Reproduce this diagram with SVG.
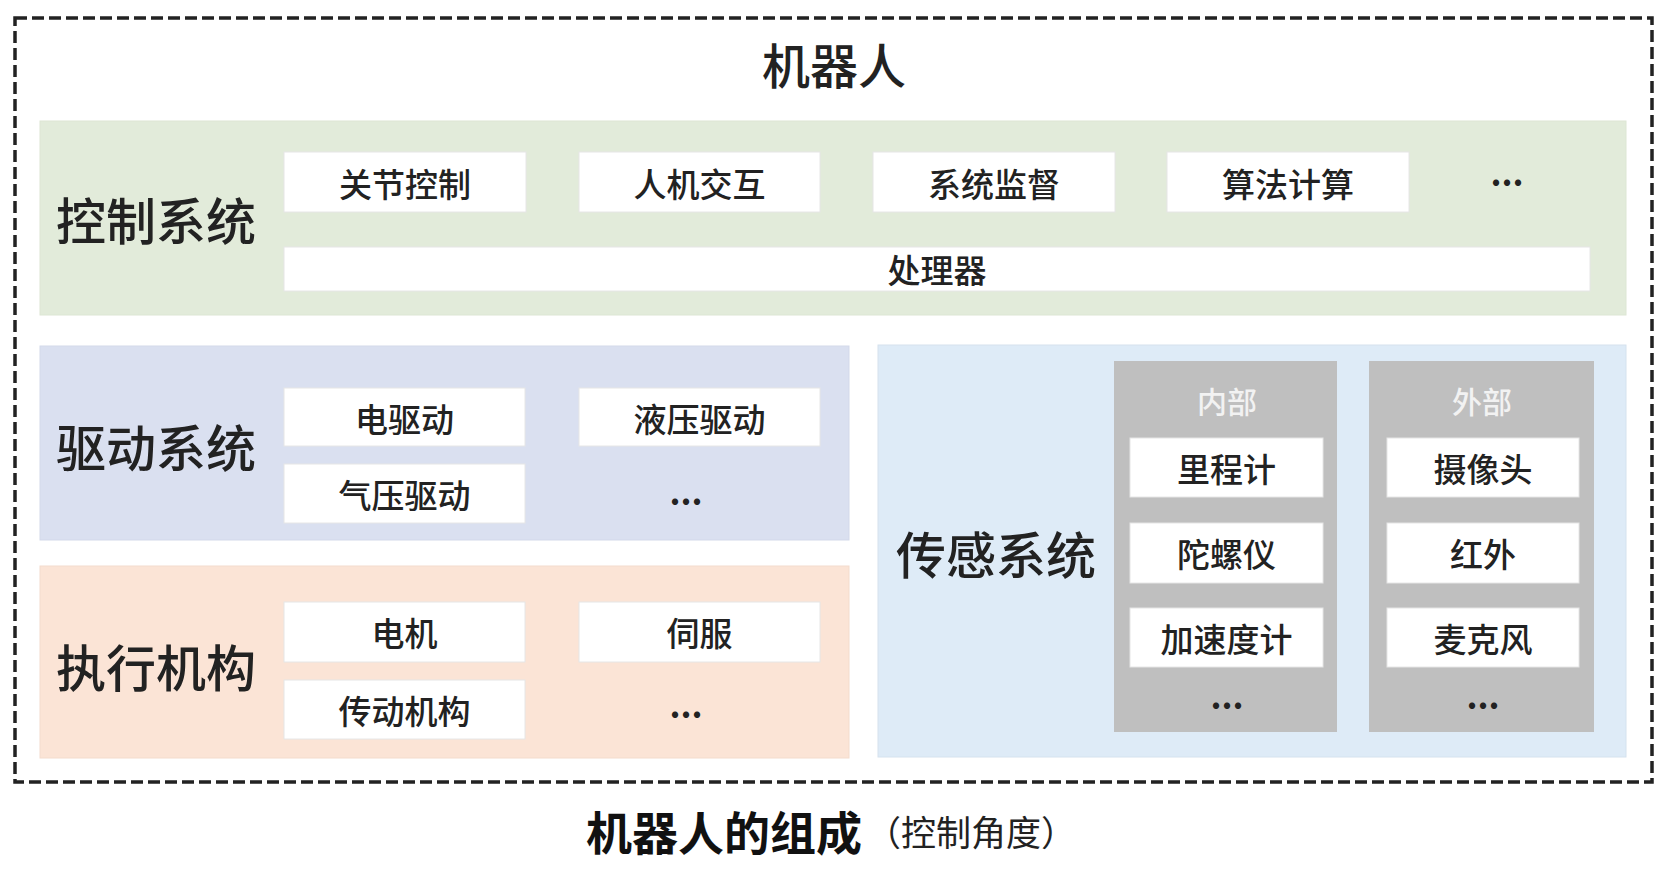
<svg xmlns="http://www.w3.org/2000/svg" width="1677" height="871" viewBox="0 0 1677 871">
<style>
text{font-family:"Noto Sans CJK SC","Noto Sans",sans-serif;fill:#222222;text-anchor:middle;dominant-baseline:central;font-weight:500}
.big{font-size:50px}
.lbl{font-size:33px}
.item{fill:#ffffff;stroke:#e6e6e6;stroke-width:1}
.dots{font-size:34px;font-weight:bold}
.hdr{font-size:30px;fill:#f2f2f2}
</style>
<rect x="0" y="0" width="1677" height="871" fill="#ffffff"/>
<g id="robot">
<rect x="15" y="18" width="1637" height="764" fill="none" stroke="#222222" stroke-width="3.5" stroke-dasharray="12 5"/>
<text x="834" y="63" style="font-size:48px">机器人</text>
</g>
<g id="control">
<rect x="40" y="121" width="1586" height="194" fill="#e2ebda" stroke="#dde6d4" stroke-width="1"/>
<text class="big" x="156" y="218">控制系统</text>
<g id="c1"><rect class="item" x="284" y="152" width="242" height="60"/><text class="lbl" x="405" y="183">关节控制</text></g>
<g id="c2"><rect class="item" x="579" y="152" width="241" height="60"/><text class="lbl" x="699.5" y="183">人机交互</text></g>
<g id="c3"><rect class="item" x="873" y="152" width="242" height="60"/><text class="lbl" x="994" y="183">系统监督</text></g>
<g id="c4"><rect class="item" x="1167" y="152" width="242" height="60"/><text class="lbl" x="1288" y="183">算法计算</text></g>
<g id="c5"><text class="dots" x="1507" y="171">...</text></g>
<g id="cpu"><rect class="item" x="284" y="247" width="1306" height="44"/><text class="lbl" x="937" y="269">处理器</text></g>
</g>
<g id="drive">
<rect x="40" y="346" width="809" height="194" fill="#dae0f0" stroke="#d3d9ea" stroke-width="1"/>
<text class="big" x="156" y="445">驱动系统</text>
<g id="d1"><rect class="item" x="284" y="388" width="241" height="58"/><text class="lbl" x="404.5" y="418">电驱动</text></g>
<g id="d2"><rect class="item" x="579" y="388" width="241" height="58"/><text class="lbl" x="699.5" y="418">液压驱动</text></g>
<g id="d3"><rect class="item" x="284" y="464" width="241" height="59"/><text class="lbl" x="404.5" y="494">气压驱动</text></g>
<g id="d4"><text class="dots" x="686" y="490">...</text></g>
</g>
<g id="actuator">
<rect x="40" y="566" width="809" height="192" fill="#fbe4d6" stroke="#f3dccd" stroke-width="1"/>
<text class="big" x="156" y="665">执行机构</text>
<g id="a1"><rect class="item" x="284" y="602" width="241" height="60"/><text class="lbl" x="404.5" y="632">电机</text></g>
<g id="a2"><rect class="item" x="579" y="602" width="241" height="60"/><text class="lbl" x="699.5" y="632">伺服</text></g>
<g id="a3"><rect class="item" x="284" y="680" width="241" height="59"/><text class="lbl" x="404.5" y="710">传动机构</text></g>
<g id="a4"><text class="dots" x="686" y="703">...</text></g>
</g>
<g id="sensor">
<rect x="878" y="345" width="748" height="412" fill="#deebf7" stroke="#d5e2ee" stroke-width="1"/>
<text class="big" x="996" y="552">传感系统</text>
<g id="internal">
<rect x="1114" y="361" width="223" height="371" fill="#bfbfbf"/>
<text class="hdr" x="1227" y="400">内部</text>
<g id="s1"><rect class="item" x="1130" y="438" width="193" height="59"/><text class="lbl" x="1226.5" y="468">里程计</text></g>
<g id="s2"><rect class="item" x="1130" y="523" width="193" height="60"/><text class="lbl" x="1226.5" y="553">陀螺仪</text></g>
<g id="s3"><rect class="item" x="1130" y="608" width="193" height="59"/><text class="lbl" x="1226.5" y="638">加速度计</text></g>
<text class="dots" x="1227" y="694">...</text>
</g>
<g id="external">
<rect x="1369" y="361" width="225" height="371" fill="#bfbfbf"/>
<text class="hdr" x="1482" y="400">外部</text>
<g id="s4"><rect class="item" x="1387" y="438" width="192" height="59"/><text class="lbl" x="1483" y="468">摄像头</text></g>
<g id="s5"><rect class="item" x="1387" y="523" width="192" height="60"/><text class="lbl" x="1483" y="553">红外</text></g>
<g id="s6"><rect class="item" x="1387" y="608" width="192" height="59"/><text class="lbl" x="1483" y="638">麦克风</text></g>
<text class="dots" x="1483" y="694">...</text>
</g>
</g>
<g id="connectors"></g>
<g id="caption">
<text x="586" y="830" style="text-anchor:start;font-size:46px;font-weight:bold;fill:#111">机器人的组成<tspan dx="4" style="font-size:35px;font-weight:normal;fill:#222">（控制角度）</tspan></text>
</g>
</svg>
